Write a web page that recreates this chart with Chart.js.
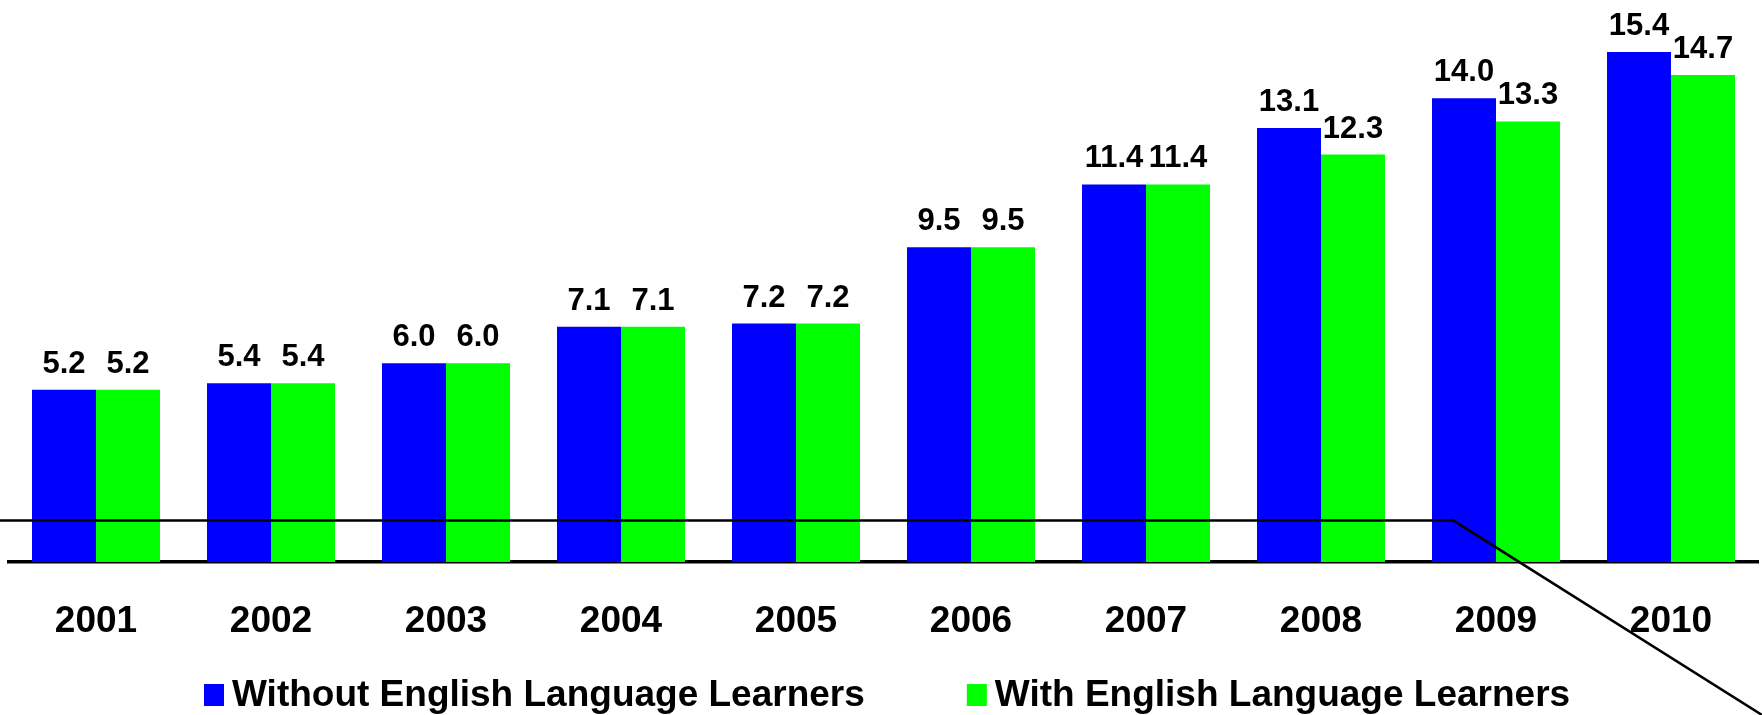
<!DOCTYPE html>
<html>
<head>
<meta charset="utf-8">
<script src="https://cdn.jsdelivr.net/npm/chart.js@4/dist/chart.umd.min.js"></script>
<style>
  html, body { margin: 0; padding: 0; background: #fff; }
  #wrap { width: 1762px; height: 715px; }
</style>
</head>
<body>
<div id="wrap"><canvas id="c" width="1762" height="715"></canvas></div>
<script>
const categories = ['2001','2002','2003','2004','2005','2006','2007','2008','2009','2010'];
const withoutELL = [5.2, 5.4, 6.0, 7.1, 7.2, 9.5, 11.4, 13.1, 14.0, 15.4];
const withELL    = [5.2, 5.4, 6.0, 7.1, 7.2, 9.5, 11.4, 12.3, 13.3, 14.7];
const seriesNames = ['Without English Language Learners', 'With English Language Learners'];
const seriesColors = ['#0000FF', '#00FF00'];

const FONT = '"Liberation Sans", Arial, sans-serif';

const valueLabels = {
  id: 'valueLabels',
  afterDatasetsDraw(chart) {
    const ctx = chart.ctx;
    ctx.save();
    ctx.font = 'bold 31px ' + FONT;
    ctx.fillStyle = '#000';
    ctx.textAlign = 'center';
    ctx.textBaseline = 'alphabetic';
    chart.data.datasets.forEach((ds, di) => {
      chart.getDatasetMeta(di).data.forEach((bar, i) => {
        ctx.fillText(ds.data[i].toFixed(1), bar.x, bar.y - 17);
      });
    });
    ctx.restore();
  }
};

const decorations = {
  id: 'decorations',
  afterDraw(chart) {
    const ctx = chart.ctx;
    const xs = chart.scales.x, ys = chart.scales.y;
    const yLine = ys.getPixelForValue(1.25);
    const xBend = xs.getPixelForValue(7.757);
    ctx.save();
    ctx.strokeStyle = '#000';
    ctx.lineWidth = 2.5;
    ctx.beginPath();
    ctx.moveTo(0, yLine);
    ctx.lineTo(xBend, yLine);
    ctx.lineTo(chart.width, chart.height);
    ctx.stroke();
    ctx.restore();
  }
};

const customLegend = {
  id: 'customLegend',
  afterDraw(chart) {
    const ctx = chart.ctx;
    ctx.save();
    ctx.font = 'bold 37px ' + FONT;
    ctx.textAlign = 'left';
    ctx.textBaseline = 'alphabetic';
    const baseY = 706;
    const boxW = 20, boxH = 22, gap = 8, spacing = 102;
    let x = 204;
    chart.data.datasets.forEach((ds) => {
      ctx.fillStyle = ds.backgroundColor;
      ctx.fillRect(x, baseY - boxH, boxW, boxH);
      ctx.fillStyle = '#000';
      ctx.fillText(ds.label, x + boxW + gap, baseY);
      x += boxW + gap + ctx.measureText(ds.label).width + spacing;
    });
    ctx.restore();
  }
};

new Chart(document.getElementById('c'), {
  type: 'bar',
  data: {
    labels: categories,
    datasets: [
      { label: seriesNames[0], data: withoutELL, backgroundColor: seriesColors[0], borderWidth: 0 },
      { label: seriesNames[1], data: withELL, backgroundColor: seriesColors[1], borderWidth: 0 }
    ]
  },
  options: {
    responsive: false,
    animation: false,
    devicePixelRatio: 1,
    layout: { padding: { top: 32, left: 8.5, right: 3.5, bottom: 0 } },
    datasets: { bar: { categoryPercentage: 0.7314, barPercentage: 1.0 } },
    plugins: { legend: { display: false }, tooltip: { enabled: false } },
    scales: {
      x: {
        grid: { display: false },
        border: { display: true, color: '#000', width: 3.5 },
        ticks: { color: '#000', font: { family: FONT, size: 37, weight: 'bold' }, padding: 30, maxRotation: 0 },
        afterFit(scale) { scale.height = 153; }
      },
      y: {
        display: false,
        min: 0,
        max: 16
      }
    }
  },
  plugins: [valueLabels, decorations, customLegend]
});
</script>
</body>
</html>
